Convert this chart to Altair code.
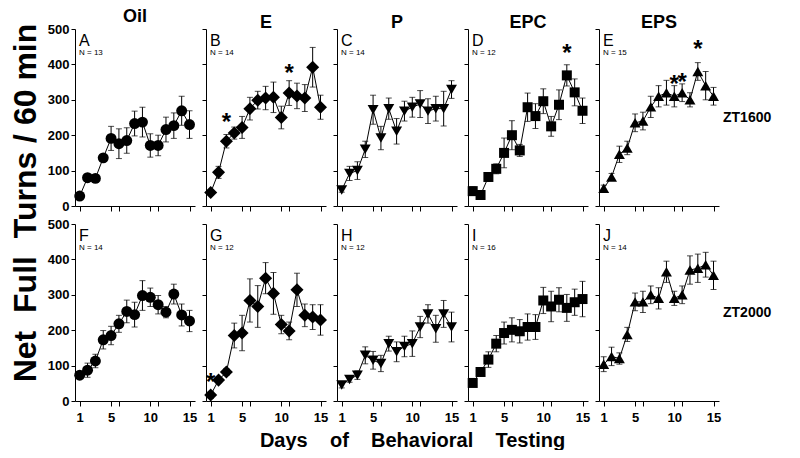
import altair as alt
import pandas as pd

days = list(range(1, 16))
treatments = ["Oil", "E", "P", "EPC", "EPS"]
shapes = ["circle", "diamond", "triangle-down", "square", "triangle-up"]
marker_sizes = [120, 170, 120, 100, 120]
row_labels = ["ZT1600", "ZT2000"]
letters = [["A", "B", "C", "D", "E"], ["F", "G", "H", "I", "J"]]
n_labels = [["N = 13", "N = 14", "N = 14", "N = 12", "N = 15"],
            ["N = 14", "N = 12", "N = 12", "N = 16", "N = 14"]]

# ZT1600 row
oil_1600 = [28, 80, 78, 136, 191, 176, 185, 233, 237, 171, 171, 216, 227, 269, 230]
oil_1600_sem = [5, 10, 10, 10, 34, 42, 36, 35, 42, 33, 29, 35, 36, 41, 39]
e_1600 = [38, 95, 183, 206, 222, 275, 299, 305, 307, 250, 319, 311, 305, 392, 279]
e_1600_sem = [6, 17, 19, 17, 31, 32, 25, 33, 43, 32, 35, 36, 38, 56, 34]
p_1600 = [45, 92, 100, 160, 272, 192, 275, 211, 268, 279, 288, 268, 275, 275, 329]
p_1600_sem = [6, 20, 25, 23, 41, 33, 30, 36, 28, 28, 38, 35, 35, 49, 25]
epc_1600 = [42, 31, 82, 105, 150, 200, 157, 279, 254, 296, 225, 286, 369, 321, 269]
epc_1600_sem = [12, 6, 12, 14, 42, 41, 17, 40, 35, 35, 28, 42, 30, 38, 36]
eps_1600 = [50, 82, 146, 164, 235, 240, 280, 310, 320, 310, 320, 300, 380, 340, 310]
eps_1600_sem = [9, 10, 23, 19, 25, 25, 30, 30, 35, 30, 25, 20, 25, 40, 25]

# ZT2000 row
oil_2000 = [73, 87, 113, 173, 185, 218, 253, 244, 298, 293, 272, 251, 302, 243, 226]
oil_2000_sem = [8, 20, 19, 26, 26, 24, 32, 35, 42, 26, 26, 16, 28, 31, 30]
e_2000 = [17, 59, 82, 185, 192, 284, 267, 347, 304, 216, 198, 314, 242, 237, 229]
e_2000_sem = [10, 8, 10, 35, 50, 61, 59, 44, 59, 26, 25, 47, 32, 35, 43]
p_2000 = [45, 61, 73, 129, 115, 106, 162, 139, 154, 162, 209, 246, 204, 246, 209]
p_2000_sem = [8, 8, 12, 24, 25, 23, 21, 28, 29, 36, 30, 26, 38, 38, 42]
epc_2000 = [51, 82, 117, 162, 192, 201, 197, 209, 209, 284, 267, 286, 263, 279, 288]
epc_2000_sem = [8, 12, 22, 23, 31, 34, 33, 37, 35, 37, 43, 34, 38, 37, 50]
eps_2000 = [104, 126, 120, 188, 280, 280, 300, 290, 365, 290, 300, 370, 375, 385, 355]
eps_2000_sem = [21, 26, 16, 20, 25, 30, 25, 30, 30, 20, 25, 40, 40, 35, 40]

means = [[oil_1600, e_1600, p_1600, epc_1600, eps_1600],
         [oil_2000, e_2000, p_2000, epc_2000, eps_2000]]
sems = [[oil_1600_sem, e_1600_sem, p_1600_sem, epc_1600_sem, eps_1600_sem],
        [oil_2000_sem, e_2000_sem, p_2000_sem, epc_2000_sem, eps_2000_sem]]

# significance asterisks: (row, col, day, value)
star_row = [0, 0, 0, 0, 0, 0, 1]
star_col = [1, 1, 3, 4, 4, 4, 1]
star_day = [3, 11, 13, 10, 11, 13, 1]
star_val = [235, 372, 428, 342, 348, 440, 50]

x_ticks = [1, 5, 6, 10, 11, 15]
y_ticks = [0, 100, 200, 300, 400, 500]

FONT = "Liberation Sans, Arial, Helvetica, sans-serif"
W, H = 120, 177
SP = "\u00a0"
X_TITLE = "Days" + SP * 4 + "of" + SP * 4 + "Behavioral" + SP * 4 + "Testing"
Y_TITLE = "Net" + SP * 2 + "Full" + SP * 2 + "Turns / 60 min"


def panel(r, c):
    m = means[r][c]
    s = sems[r][c]
    df = pd.DataFrame({"day": days, "mean": m,
                       "lo": [a - b for a, b in zip(m, s)],
                       "hi": [a + b for a, b in zip(m, s)]})
    axis_common = dict(values=x_ticks, grid=False, labelOverlap=False,
                       labelExpr="datum.value == 6 || datum.value == 11 ? '' : datum.label",
                       tickSize=5, labelPadding=5, labelFontSize=13, labelFont=FONT,
                       labelFontWeight="bold", domainColor="black", tickColor="black",
                       labelColor="black", labelBound=False, labelFlush=False)
    if r == 1 and c == 2:
        xax = alt.Axis(labels=True, title=X_TITLE, titleFont=FONT, titleFontSize=20,
                       titleFontWeight="bold", titleColor="black", titleX=75,
                       titleAlign="center", titlePadding=6, **axis_common)
    else:
        xax = alt.Axis(labels=(r == 1), title=None, **axis_common)
    yax = alt.Axis(values=y_ticks, labels=(c == 0), title=None, grid=False,
                   tickSize=4, labelPadding=2, labelFontSize=13, labelFont=FONT,
                   labelFontWeight="bold", domainColor="black", tickColor="black",
                   labelColor="black", labelOverlap=False, labelFlush=False,
                   labelBound=False)
    xs = alt.Scale(domain=[0.4, 15.7], nice=False, zero=False)
    ys = alt.Scale(domain=[0, 500], nice=False)
    X = alt.X("day:Q", scale=xs, axis=xax)
    base = alt.Chart(df)
    line = base.mark_line(color="black", strokeWidth=1).encode(
        x=X, y=alt.Y("mean:Q", scale=ys, axis=yax))
    err = base.mark_errorbar(ticks={"size": 6, "thickness": 1}, color="black",
                             thickness=1).encode(
        x=X, y=alt.Y("lo:Q", scale=ys, axis=yax), y2="hi:Q")
    pts = base.mark_point(shape=shapes[c], filled=True, size=marker_sizes[c],
                          color="black", opacity=1).encode(
        x=X, y=alt.Y("mean:Q", scale=ys, axis=yax))
    lab = pd.DataFrame({"t": [letters[r][c]], "n": [n_labels[r][c]]})
    letter = alt.Chart(lab).mark_text(align="left", baseline="top", fontSize=16,
                                      font=FONT, color="black").encode(
        x=alt.value(4), y=alt.value(4), text="t:N")
    ntext = alt.Chart(lab).mark_text(align="left", baseline="top", fontSize=8,
                                     font=FONT, color="black").encode(
        x=alt.value(4), y=alt.value(20), text="n:N")
    layers = [line, err, pts, letter, ntext]
    sdf = pd.DataFrame({"day": [d for rr, cc, d in zip(star_row, star_col, star_day) if rr == r and cc == c],
                        "v": [v for rr, cc, v in zip(star_row, star_col, star_val) if rr == r and cc == c]})
    if len(sdf):
        sdf["t"] = "*"
        stars = alt.Chart(sdf).mark_text(fontSize=24, font=FONT,
                                         fontWeight="bold", baseline="middle",
                                         color="black").encode(
            x=X, y=alt.Y("v:Q", scale=ys, axis=yax), text="t:N")
        layers.append(stars)
    if c == 4:
        rl = pd.DataFrame({"t": [row_labels[r]]})
        rtxt = alt.Chart(rl).mark_text(align="left", baseline="middle", fontSize=14,
                                       font=FONT, fontWeight="bold",
                                       color="black").encode(
            x=alt.value(W + 4), y=alt.value(H / 2), text="t:N")
        layers.append(rtxt)
    ch = alt.layer(*layers).properties(width=W, height=H)
    if r == 0:
        ch = ch.properties(title=alt.TitleParams(treatments[c], fontSize=18,
                                                 font=FONT, fontWeight="bold",
                                                 color="black", offset=-3))
    return ch


panels = [panel(r, c) for r in range(2) for c in range(5)]

chart = alt.concat(*panels, columns=5, spacing={"row": 18, "column": 11},
                   bounds="flush").properties(
    title=alt.TitleParams(Y_TITLE, orient="left", anchor="middle", fontSize=32,
                          font=FONT, fontWeight="bold", color="black", offset=4,
                          dx=26),
    padding={"left": 2, "top": 0, "right": 2, "bottom": 0},
).configure_view(stroke=None).configure_axis(domainWidth=1, tickWidth=1)

chart.save("out.html", embed_options={"renderer": "svg", "actions": False})
